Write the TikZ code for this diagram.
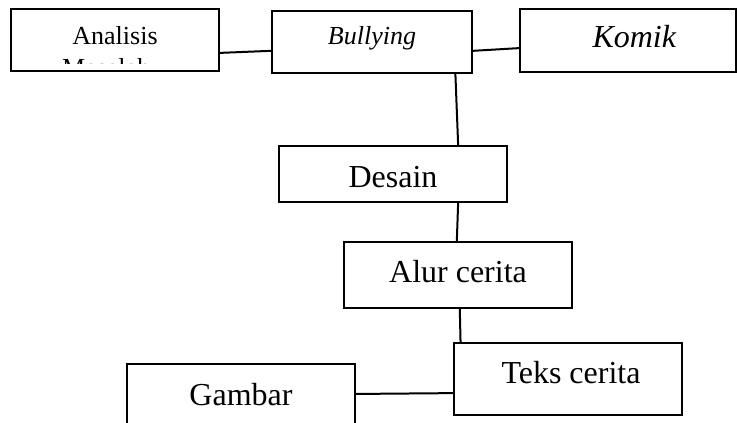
\documentclass[tikz,border=0pt]{standalone}
\usepackage{fontspec}
\setmainfont{Liberation Serif}
\begin{document}
\begin{tikzpicture}[x=0.75pt,y=-0.75pt,line width=1.5pt,
  box/.style={draw,rectangle,inner sep=0pt,text depth=0pt,font=\fontsize{24}{29}\selectfont},
  smallbox/.style={box,font=\fontsize{19.5}{23.4}\selectfont}]
\useasboundingbox (0,0) rectangle (737,423);
\node[smallbox,minimum width=156pt,minimum height=46.5pt,text height=7.5pt] (ana) at (115,40) {Analisis};
\node[smallbox,minimum width=150pt,minimum height=46.5pt,text height=4.5pt] (bul) at (372,42) {\textit{Bullying}};
\node[box,minimum width=162pt,minimum height=47.25pt,text height=11.25pt] (kom) at (628,40.5) {\hspace*{9.75pt}\textit{Komik}};
\node[box,minimum width=171pt,minimum height=42pt,text height=21pt] (des) at (393,174) {Desain};
\node[box,minimum width=171pt,minimum height=49.5pt,text height=12pt] (alur) at (458,275) {Alur cerita};
\node[box,minimum width=171pt,minimum height=54pt,text height=6pt] (teks) at (568,379) {\hspace*{4.5pt}Teks cerita};
\node[box,minimum width=171pt,minimum height=57pt,text height=4.5pt] (gam) at (241,402) {Gambar};
\begin{scope}
\clip (ana.north west) rectangle ([yshift=6.4pt]ana.south east);
\node[anchor=base west,inner sep=0pt,font=\fontsize{19.5}{23.4}\selectfont] (mas) at (61,76.5) {Masalah};
\end{scope}
\draw (ana.-7) -- (bul.185);
\draw (bul.-5) -- (kom.184);
\draw (bul.-21) -- (des.24);
\draw (des.-24) -- (alur.92);
\draw (alur.-87) -- (teks.161.2);
\draw (gam.4) -- (teks.187);
\end{tikzpicture}
\end{document}
